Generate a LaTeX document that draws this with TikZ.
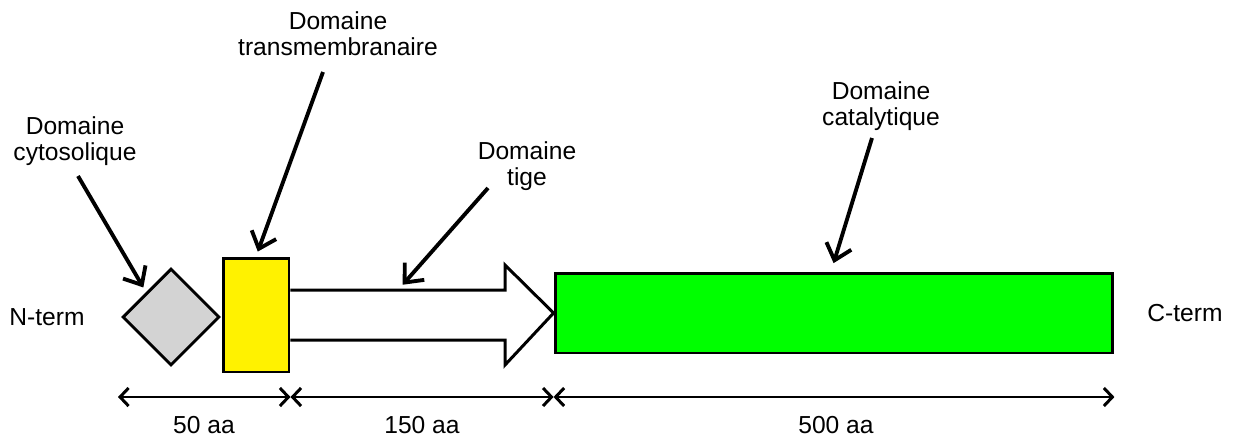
\documentclass[tikz,border=0pt]{standalone}
\usepackage{fontspec}
\setmainfont{Liberation Sans}
\usetikzlibrary{shapes.geometric, arrows.meta, positioning, calc}

\definecolor{cytogray}{RGB}{211,211,211}
\definecolor{catgreen}{RGB}{0,255,0}

\begin{document}
\begin{tikzpicture}[
    x=0.02cm, y=-0.02cm,
    every node/.style={font=\fontsize{14}{14.7}\selectfont, align=center},
    domainbox/.style={draw, line width=1.7pt, inner sep=0pt},
    callout/.style={line width=2.2pt, -{Straight Barb[length=3mm, width=5.2mm, line width=2.2pt]}},
    span/.style={line width=1.5pt, {Straight Barb[length=1.7mm, width=3.6mm, line width=1.7pt]}-{Straight Barb[length=1.7mm, width=3.6mm, line width=1.7pt]}}
  ]
  \useasboundingbox (0,0) rectangle (1233,437);

  % domaines
  \node[domainbox, diamond, fill=cytogray, minimum width=1.94cm, minimum height=1.94cm] (cyto) at (171,317) {};
  \node[domainbox, fill=yellow, minimum width=1.32cm, minimum height=2.28cm] (trans) at (256,315) {};
  \node[domainbox, fill=catgreen, minimum width=11.16cm, minimum height=1.6cm] (catal) at (834,313) {};

  % domaine tige (fleche)
  \coordinate (shafttop) at (398,290);
  \draw[domainbox, fill=white] (trans.east |- 0,290) -- (505,290) -- (505,265) -- (catal.west)
    -- (505,365) -- (505,340) -- (trans.east |- 0,340);

  % extremites
  \node (nterm) at (47,317) {N-term};
  \node (cterm) at (1185,313) {C-term};

  % etiquettes
  \node (lcyto) at (75,141) {Domaine\\cytosolique};
  \node (ltrans) at (338,34) {Domaine\\transmembranaire};
  \node (ltige) at (527,166) {Domaine\\tige};
  \node (lcatal) at (881,106) {Domaine\\catalytique};

  \coordinate (tcyto) at (78,176);
  \coordinate (ttrans) at (323,72);
  \coordinate (ttige) at (488,188);
  \coordinate (tcatal) at (872,138);

  \draw[callout, shorten >=3pt] (tcyto) -- (cyto.north west);
  \draw[callout, shorten >=3pt] (ttrans) -- (trans.north);
  \draw[callout, shorten >=4pt] (ttige) -- (shafttop);
  \draw[callout, shorten >=5pt] (tcatal) -- ($(catal.north)+(-3,0)$);

  % longueurs
  \coordinate (d0) at (118,397);
  \coordinate (d1) at (trans.east |- d0);
  \coordinate (d2) at (catal.west |- d0);
  \coordinate (d3) at (catal.east |- d0);
  \draw[span] (d0) -- (d1);
  \draw[span] (d1) -- (d2);
  \draw[span] (d2) -- (d3);
  \node (len1) at (204,425) {50 aa};
  \node (len2) at (422,425) {150 aa};
  \node (len3) at (836,425) {500 aa};
\end{tikzpicture}
\end{document}
